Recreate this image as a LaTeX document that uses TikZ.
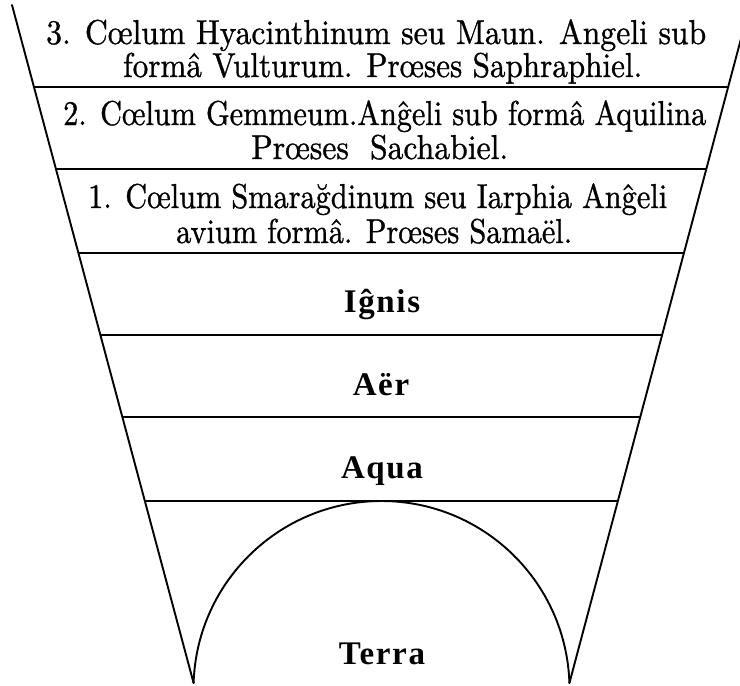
\documentclass[tikz,border=0pt]{standalone}
\usepackage{fontspec}
\usepackage{graphicx}
\usetikzlibrary{calc}
\newfontfamily\upperfont{lmroman10-regular.otf}[FakeBold=1.0]
\newfontfamily\elemfont{Liberation Serif}[LetterSpace=5]
\newcommand{\fitline}[2]{\resizebox{#1}{1.15\height}{#2}}
\begin{document}
\begin{tikzpicture}[x=1pt,y=-1pt,
  band/.style={line width=1.3pt},
  side/.style={line width=1.9pt, line cap=round, line join=round},
  uppertext/.style={anchor=base west, inner sep=0pt, font=\upperfont\fontsize{30}{32}\selectfont},
  elemtext/.style={anchor=base, inner sep=0pt, font=\elemfont\bfseries\fontsize{33}{35}\selectfont}]
\useasboundingbox (0,0) rectangle (740,686);
\fill[white] (0,0) rectangle (740,686);
\begin{scope}
\clip (0,0) rectangle (740,686);
\coordinate (L0) at (12,5);
\coordinate (L1) at (193.6,683);
\coordinate (R0) at (750,5);
\coordinate (R1) at (569.4,683);
\draw[side] (L0) -- (L1);
\draw[side] (R0) -- (R1);
\foreach \yy in {87,169,253,335,417,501} {
  \draw[band] ($(L0)!{(\yy-5)/678}!(L1)$) -- ($(R0)!{(\yy-5)/678}!(R1)$);
}
\draw[side] (L1) arc[start angle=-178.17, end angle=-1.83, radius=188];
\end{scope}
% upper heavens
\node[uppertext] (t1) at (46,44) {\fitline{660pt}{3. Cœlum Hyacinthinum seu Maun. Angeli sub}};
\node[uppertext] (t2) at (123,77) {\fitline{519pt}{formâ Vulturum. Prœses Saphraphiel.}};
\node[uppertext] (t3) at (63,125) {\fitline{643pt}{2. Cœlum Gemmeum.Anĝeli sub formâ Aquilina}};
\node[uppertext] (t4) at (251,159) {\fitline{257pt}{Prœses\ \ Sachabiel.}};
\node[uppertext] (t5) at (88,208) {\fitline{579pt}{1. Cœlum Smarağdinum seu Iarphia Anĝeli}};
\node[uppertext] (t6) at (176,243) {\fitline{396pt}{avium formâ. Prœses Samaël.}};
% elements
\node[elemtext] (ignis) at (382,312) {Iĝnis};
\node[elemtext] (aer) at (381,395) {Aër};
\node[elemtext] (aqua) at (382,478) {Aqua};
\node[elemtext] (terra) at (382,664) {Terra};
\end{tikzpicture}
\end{document}
